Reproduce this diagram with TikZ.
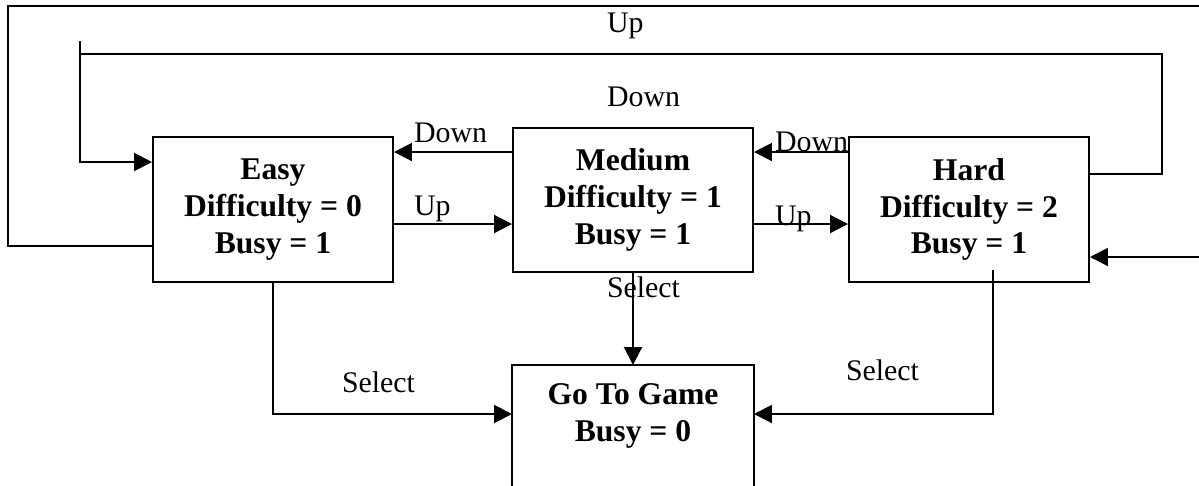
\documentclass[tikz,border=0pt]{standalone}
\usepackage{fontspec}
\setmainfont{Liberation Serif}
\usetikzlibrary{arrows.meta}

\begin{document}
\begin{tikzpicture}[x=0.02cm,y=-0.02cm,line width=0.04cm]
  \tikzstyle{state}=[draw,rectangle,minimum width=4.8cm,minimum height=2.9cm,inner sep=0pt,align=center,font=\fontsize{18}{21}\selectfont\bfseries]
  \tikzstyle{lbl}=[anchor=base west,inner sep=0pt,font=\fontsize{17}{20}\selectfont]
  \tikzstyle{arr}=[-{Triangle[length=0.36cm,width=0.36cm]}]
  \useasboundingbox (0,0) rectangle (1199,485);
  \clip (0,0) rectangle (1199,485);

  \node[state] (Easy) at (273,209.5) {Easy\\Difficulty = 0\\Busy = 1};
  \node[state, minimum height=2.88cm] (Medium) at (633,200) {Medium\\Difficulty = 1\\Busy = 1};
  \node[state] (Hard) at (969,209.5) {Hard\\Difficulty = 2\\Busy = 1};
  \node[state, draw=none, minimum height=2cm] (Game) at (633,416) {Go To Game\\Busy = 0};
  \draw ([yshift=-1cm]Game.south west) -- (Game.north west) -- (Game.north east) -- ([yshift=-1cm]Game.south east);

  \coordinate (upA) at (8,246);
  \coordinate (upB) at (8,6);
  \coordinate (upC) at (1210,6);
  \coordinate (upD) at (1210,257);
  \coordinate (dnA) at (1162,174);
  \coordinate (dnB) at (1162,54);
  \coordinate (dnC) at (80,54);
  \coordinate (dnD) at (80,162);
  \coordinate (dnS) at (80,41);
  \coordinate (rowD) at (0,152);
  \coordinate (rowU) at (0,224);
  \coordinate (selE) at (273,414);
  \coordinate (selT) at (993,270);
  \coordinate (selH) at (993,414);

  \draw[arr] (Easy.west |- upA) -- (upA) -- (upB) -- (upC) -- (upD) -- (Hard.east |- upD);
  \draw[arr] (Hard.east |- dnA) -- (dnA) -- (dnB) -- (dnC) -- (dnD) -- (Easy.west |- dnD);
  \draw (dnC) -- (dnS);

  \draw[arr] (Medium.west |- rowD) -- (Easy.east |- rowD);
  \draw[arr] (Easy.east |- rowU) -- (Medium.west |- rowU);
  \draw[arr] (Hard.west |- rowD) -- (Medium.east |- rowD);
  \draw[arr] (Medium.east |- rowU) -- (Hard.west |- rowU);

  \draw[arr] (Easy.south) -- (selE) -- (Game.west |- selE);
  \draw[arr] (Medium.south) -- (Game.north);
  \draw[arr] (selT) -- (selH) -- (Game.east |- selH);

  \node[lbl] (upTop) at (606,32) {Up};
  \node[lbl] (dnMid) at (606,106) {Down};
  \node[lbl] (dnEM) at (413,142) {Down};
  \node[lbl] (upEM) at (413,215) {Up};
  \node[lbl] (dnMH) at (774,151) {Down};
  \node[lbl] (upMH) at (774,225) {Up};
  \node[lbl] (selEG) at (341,392) {Select};
  \node[lbl] (selMG) at (606,297) {Select};
  \node[lbl] (selHG) at (845,380) {Select};
\end{tikzpicture}
\end{document}
